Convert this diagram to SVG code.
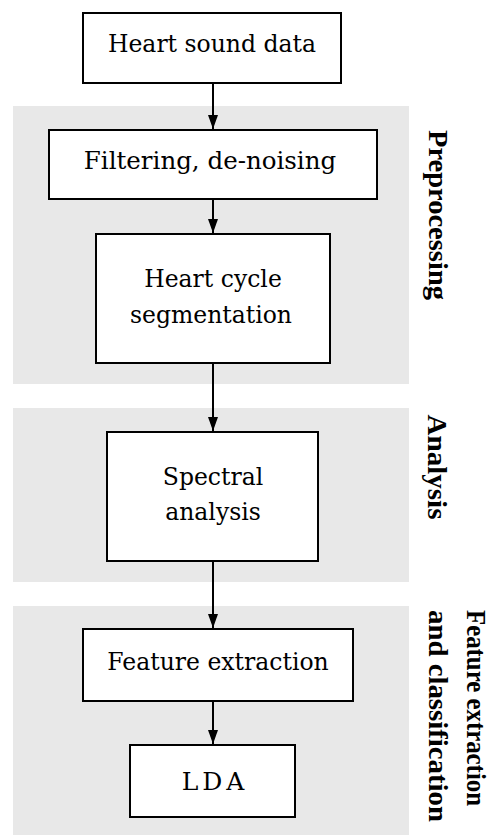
<svg xmlns="http://www.w3.org/2000/svg" width="492" height="835" viewBox="0 0 492 835">
<style>
.panel{fill:#e8e8e8;stroke:none}
.box{fill:#fff;stroke:#000;stroke-width:2}
.t{font-family:"DejaVu Serif","Liberation Serif",serif;font-size:23.5px;fill:#000;text-anchor:middle}
.side{font-family:"Liberation Serif","Times New Roman",serif;font-weight:bold;font-size:28px;fill:#000;text-anchor:middle}
.conn line{stroke:#000;stroke-width:2}
</style>
<defs>
<marker id="ah" markerUnits="userSpaceOnUse" markerWidth="16" markerHeight="12" viewBox="0 0 16 12" refX="15" refY="6" orient="auto">
<path d="M1,1 L15,6 L1,11 Z" fill="#000"/>
</marker>
</defs>
<rect width="492" height="835" fill="#fff"/>
<g id="panels">
<rect class="panel" x="13" y="106" width="396" height="278"/>
<rect class="panel" x="13" y="408" width="396" height="174"/>
<rect class="panel" x="13" y="606" width="396" height="229"/>
</g>
<g id="labels">
<text class="side" transform="translate(429,215) rotate(90)" textLength="170" lengthAdjust="spacingAndGlyphs">Preprocessing</text>
<text class="side" transform="translate(428,467) rotate(90)" textLength="105" lengthAdjust="spacingAndGlyphs">Analysis</text>
<text class="side" transform="translate(467,708) rotate(90)" textLength="196" lengthAdjust="spacingAndGlyphs">Feature extraction</text>
<text class="side" transform="translate(429,716) rotate(90)" textLength="212" lengthAdjust="spacingAndGlyphs">and classification</text>
</g>
<g class="conn" id="connectors">
<line x1="213" y1="83" x2="213" y2="129" marker-end="url(#ah)"/>
<line x1="213" y1="199" x2="213" y2="233" marker-end="url(#ah)"/>
<line x1="213" y1="363" x2="213" y2="431" marker-end="url(#ah)"/>
<line x1="213" y1="561" x2="213" y2="628" marker-end="url(#ah)"/>
<line x1="213" y1="701" x2="213" y2="744" marker-end="url(#ah)"/>
</g>
<g id="n1"><rect class="box" x="83" y="13" width="258" height="70"/><text class="t" x="212" y="52">Heart sound data</text></g>
<g id="n2"><rect class="box" x="49" y="130" width="328" height="69"/><text class="t" x="210" y="169" style="font-size:24.5px">Filtering, de-noising</text></g>
<g id="n3"><rect class="box" x="96" y="234" width="234" height="129"/><text class="t" x="213" y="287">Heart cycle</text><text class="t" x="211" y="323">segmentation</text></g>
<g id="n4"><rect class="box" x="107" y="432" width="211" height="129"/><text class="t" x="213" y="485">Spectral</text><text class="t" x="213" y="520">analysis</text></g>
<g id="n5"><rect class="box" x="83" y="629" width="270" height="72"/><text class="t" x="218" y="670">Feature extraction</text></g>
<g id="n6"><rect class="box" x="130" y="745" width="165" height="72"/><text class="t" x="215" y="790" style="font-size:25px;letter-spacing:4px">LDA</text></g>
</svg>
